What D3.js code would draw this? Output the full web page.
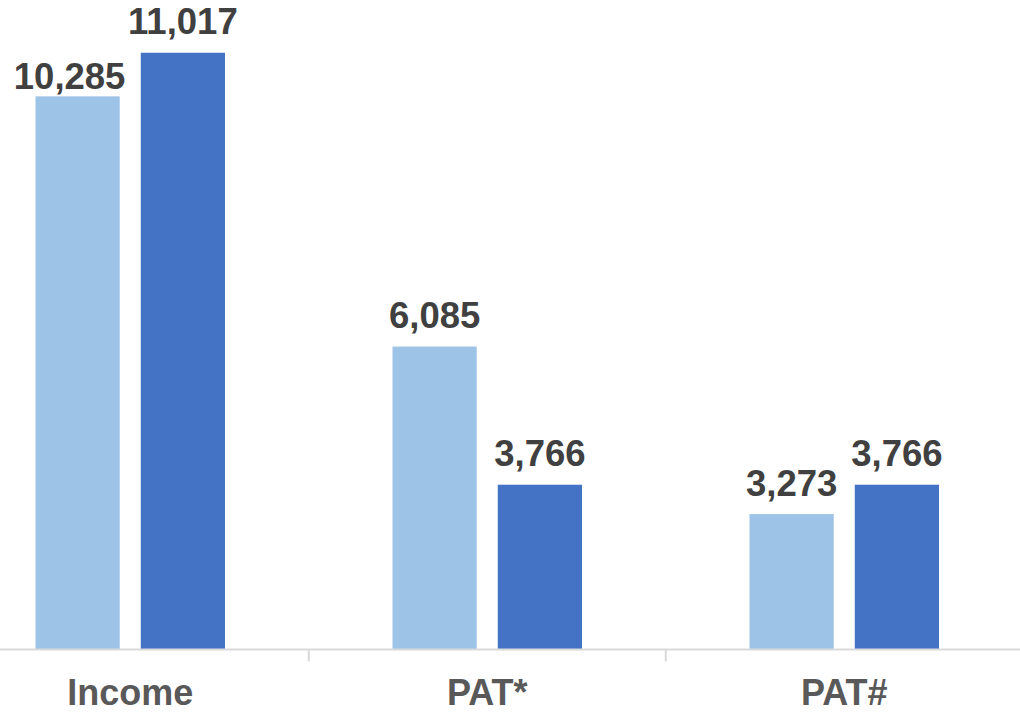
<!DOCTYPE html>
<html>
<head>
<meta charset="utf-8">
<script src="https://cdn.jsdelivr.net/npm/d3@7"></script>
<style>
  html, body { margin: 0; padding: 0; background: #fff; }
  svg { display: block; }
</style>
</head>
<body>
<script>
// chart data
var categories = ["Income", "PAT*", "PAT#"]
var seriesNames = ["prev", "curr"]
var prevValues = [10285, 6085, 3273]
var currValues = [11017, 3766, 3766]

var width = 1020
var height = 712
var baseY = 649.5
var colors = { prev: "#9DC3E6", curr: "#4472C4" }

var svg = d3.select("body")
  .append("svg")
  .attr("width", width)
  .attr("height", height)

// band step ~357px, chart is cropped on both sides
var x0 = d3.scaleBand()
  .domain(categories)
  .range([-48.25, 1022.75])

var x1 = d3.scaleBand()
  .domain(seriesNames)
  .range([83.75, 273.25])
  .paddingInner(0.2)

// value axis does not start at zero
var y = d3.scaleLinear()
  .domain([1000, 12000])
  .range([baseY, -5.8])

var rows = categories.map(function(c, i) {
  return { cat: c, vals: [
    { key: "prev", v: prevValues[i] },
    { key: "curr", v: currValues[i] }
  ]}
})

var groups = svg.selectAll(".grp")
  .data(rows)
  .enter()
  .append("g")
  .attr("class", "grp")
  .attr("transform", function(d) { return "translate(" + x0(d.cat) + ",0)" })

groups.selectAll("rect")
  .data(function(d) { return d.vals })
  .enter()
  .append("rect")
  .attr("x", function(d) { return x1(d.key) })
  .attr("width", x1.bandwidth())
  .attr("y", function(d) { return y(d.v) })
  .attr("height", function(d) { return baseY - y(d.v) })
  .attr("fill", function(d) { return colors[d.key] })

// the first label sits a bit lower/left in the original
function nudge(d, gi) {
  if (gi === 0 && d.key === "prev") return [-8, 11]
  return [0, 0]
}

groups.each(function(g, gi) {
  d3.select(this).selectAll("text.val")
    .data(g.vals)
    .enter()
    .append("text")
    .attr("class", "val")
    .attr("x", function(d) { return x1(d.key) + x1.bandwidth() / 2 + nudge(d, gi)[0] })
    .attr("y", function(d) { return y(d.v) - 18.5 + nudge(d, gi)[1] })
    .attr("text-anchor", "middle")
    .attr("font-family", "Liberation Sans, Arial, sans-serif")
    .attr("font-weight", "bold")
    .attr("font-size", "36.5px")
    .attr("fill", "#404040")
    .text(function(d) { return d3.format(",")(d.v) })
})

// axis line and ticks
var axis = svg.append("g").attr("transform", "translate(0," + baseY + ")")
axis.append("line")
  .attr("x1", 0).attr("x2", width)
  .attr("y1", 0).attr("y2", 0)
  .attr("stroke", "#d9d9d9")
  .attr("stroke-width", 2)

axis.selectAll("line.tick")
  .data(categories.slice(1))
  .enter()
  .append("line")
  .attr("class", "tick")
  .attr("x1", function(d) { return x0(d) })
  .attr("x2", function(d) { return x0(d) })
  .attr("y1", 0)
  .attr("y2", 12)
  .attr("stroke", "#d9d9d9")
  .attr("stroke-width", 2)

svg.selectAll("text.cat")
  .data(categories)
  .enter()
  .append("text")
  .attr("class", "cat")
  .attr("x", function(d) { return x0(d) + x0.bandwidth() / 2 })
  .attr("y", 704.5)
  .attr("text-anchor", "middle")
  .attr("font-family", "Liberation Sans, Arial, sans-serif")
  .attr("font-weight", "bold")
  .attr("font-size", "36px")
  .attr("fill", "#595959")
  .text(function(d) { return d })
</script>
</body>
</html>
